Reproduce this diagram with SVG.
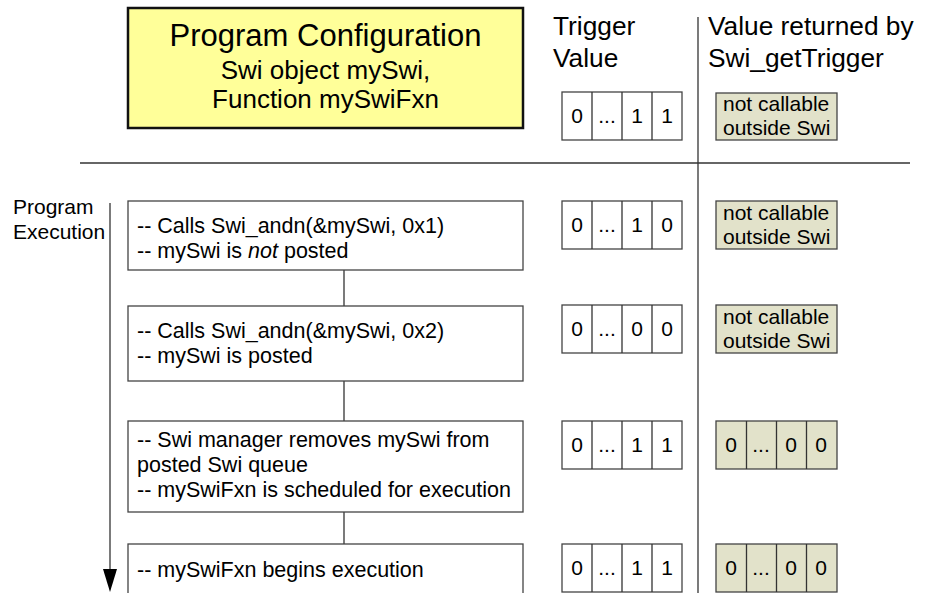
<svg xmlns="http://www.w3.org/2000/svg" width="930" height="593" viewBox="0 0 930 593">
<defs>
<style>
text{font-family:"Liberation Sans",Arial,sans-serif;fill:#000}
.hdr{font-size:26.3px}
.cfg1{font-size:31px;text-anchor:middle}
.cfg2{font-size:26px;text-anchor:middle}
.t{font-size:21px}
.p{font-size:21.5px}
.bit{font-size:21px;text-anchor:middle}
.box{fill:#fff;stroke:#444;stroke-width:1.3}
.gray{fill:#E2E2CA;stroke:#444;stroke-width:1.3}
.ln{stroke:#333;stroke-width:1.3;fill:none}
</style>
</defs>
<rect width="930" height="593" fill="#fff"/>
<g id="config">
<rect x="128" y="8" width="395" height="120" fill="#FFFF99" stroke="#111" stroke-width="2.5"/>
<text class="cfg1" x="325.5" y="46">Program Configuration</text>
<text class="cfg2" x="325.5" y="79">Swi object mySwi,</text>
<text class="cfg2" x="325.5" y="108">Function mySwiFxn</text>
</g>
<g id="headers">
<text class="hdr" x="553" y="35">Trigger</text>
<text class="hdr" x="553" y="67">Value</text>
<text class="hdr" x="708" y="35">Value returned by</text>
<text class="hdr" x="708" y="67">Swi_getTrigger</text>
<text class="t" x="13" y="214">Program</text>
<text class="t" x="13" y="239">Execution</text>
</g>
<g id="connectors">
<line class="ln" x1="698" y1="17" x2="698" y2="593"/>
<line class="ln" x1="80" y1="163" x2="910" y2="163"/>
<line class="ln" x1="110" y1="203" x2="110" y2="572"/>
<polygon points="103,569 117,569 110,592" fill="#000"/>
<line class="ln" x1="344" y1="270" x2="344" y2="306"/>
<line class="ln" x1="344" y1="381" x2="344" y2="421"/>
<line class="ln" x1="344" y1="512" x2="344" y2="544"/>
</g>
<g id="step1">
<rect class="box" x="128" y="201" width="395" height="69"/>
<text class="p" x="137" y="233">-- Calls Swi_andn(&amp;mySwi, 0x1)</text>
<text class="p" x="137" y="258">-- mySwi is <tspan font-style="italic">not</tspan> posted</text>
</g>
<g id="step2">
<rect class="box" x="128" y="306" width="395" height="75"/>
<text class="p" x="137" y="338">-- Calls Swi_andn(&amp;mySwi, 0x2)</text>
<text class="p" x="137" y="363">-- mySwi is posted</text>
</g>
<g id="step3">
<rect class="box" x="128" y="421" width="395" height="91"/>
<text class="p" x="137" y="447">-- Swi manager removes mySwi from</text>
<text class="p" x="137" y="472">posted Swi queue</text>
<text class="p" x="137" y="497">-- mySwiFxn is scheduled for execution</text>
</g>
<g id="step4">
<rect class="box" x="128" y="544" width="395" height="60"/>
<text class="p" x="137" y="577">-- mySwiFxn begins execution</text>
</g>
<g id="trig0">
<rect class="box" x="562" y="92" width="120" height="48"/>
<path class="ln" d="M592 92V140M622 92V140M652 92V140"/>
<text class="bit" x="577" y="123">0</text><text class="bit" x="607" y="123">...</text><text class="bit" x="637" y="123">1</text><text class="bit" x="667" y="123">1</text>
</g>
<g id="trig1">
<rect class="box" x="562" y="201" width="120" height="48"/>
<path class="ln" d="M592 201V249M622 201V249M652 201V249"/>
<text class="bit" x="577" y="232">0</text><text class="bit" x="607" y="232">...</text><text class="bit" x="637" y="232">1</text><text class="bit" x="667" y="232">0</text>
</g>
<g id="trig2">
<rect class="box" x="562" y="305" width="120" height="48"/>
<path class="ln" d="M592 305V353M622 305V353M652 305V353"/>
<text class="bit" x="577" y="336">0</text><text class="bit" x="607" y="336">...</text><text class="bit" x="637" y="336">0</text><text class="bit" x="667" y="336">0</text>
</g>
<g id="trig3">
<rect class="box" x="562" y="421" width="120" height="48"/>
<path class="ln" d="M592 421V469M622 421V469M652 421V469"/>
<text class="bit" x="577" y="452">0</text><text class="bit" x="607" y="452">...</text><text class="bit" x="637" y="452">1</text><text class="bit" x="667" y="452">1</text>
</g>
<g id="trig4">
<rect class="box" x="562" y="544" width="120" height="48"/>
<path class="ln" d="M592 544V592M622 544V592M652 544V592"/>
<text class="bit" x="577" y="575">0</text><text class="bit" x="607" y="575">...</text><text class="bit" x="637" y="575">1</text><text class="bit" x="667" y="575">1</text>
</g>
<g id="ret0">
<rect class="gray" x="716" y="93" width="121" height="47"/>
<text class="t" x="723" y="111">not callable</text>
<text class="t" x="723" y="135">outside Swi</text>
</g>
<g id="ret1">
<rect class="gray" x="716" y="201" width="121" height="48"/>
<text class="t" x="723" y="220">not callable</text>
<text class="t" x="723" y="244">outside Swi</text>
</g>
<g id="ret2">
<rect class="gray" x="716" y="305" width="121" height="48"/>
<text class="t" x="723" y="324">not callable</text>
<text class="t" x="723" y="348">outside Swi</text>
</g>
<g id="ret3">
<rect class="gray" x="716" y="421" width="121" height="48"/>
<path class="ln" d="M746.5 421V469M776.5 421V469M806.5 421V469"/>
<text class="bit" x="731" y="452">0</text><text class="bit" x="761" y="452">...</text><text class="bit" x="791" y="452">0</text><text class="bit" x="821" y="452">0</text>
</g>
<g id="ret4">
<rect class="gray" x="716" y="544" width="121" height="48"/>
<path class="ln" d="M746.5 544V592M776.5 544V592M806.5 544V592"/>
<text class="bit" x="731" y="575">0</text><text class="bit" x="761" y="575">...</text><text class="bit" x="791" y="575">0</text><text class="bit" x="821" y="575">0</text>
</g>
</svg>
